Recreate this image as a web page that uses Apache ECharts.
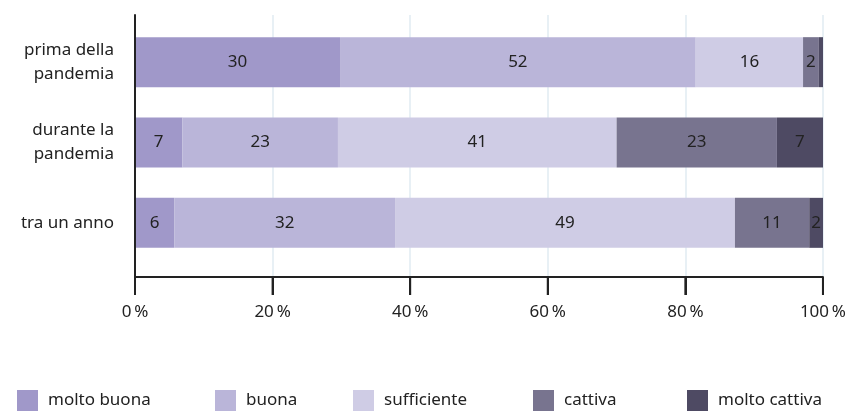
<!DOCTYPE html>
<html>
<head>
<meta charset="utf-8">
<script src="https://cdn.jsdelivr.net/npm/echarts@6/dist/echarts.min.js"></script>
<style>
  html, body { margin: 0; padding: 0; background: #fff; }
  #chart { width: 849px; height: 412px; }
</style>
</head>
<body>
<div id="chart"></div>
<script>
const categories = ['prima della\npandemia', 'durante la\npandemia', 'tra un anno']
const seriesNames = ['molto buona', 'buona', 'sufficiente', 'cattiva', 'molto cattiva']
const moltoBuona = [29.8, 6.9, 5.7]
const buona = [51.7, 22.6, 32.1]
const sufficiente = [15.6, 40.5, 49.4]
const cattiva = [2.3, 23.3, 10.8]
const moltoCattiva = [0.6, 6.7, 2.0]
const tickValues = [0, 20, 40, 60, 80, 100]
const tickLabels = ['0\u2009%', '20\u2009%', '40\u2009%', '60\u2009%', '80\u2009%', '100\u2009%']

const colors = ['#a098c9', '#bab5d9', '#cfcce5', '#78748f', '#4e4a63']
const values = [moltoBuona, buona, sufficiente, cattiva, moltoCattiva]
const legendLeft = [12, 210, 348, 528, 682]
const font = 'Noto Sans'

const chart = echarts.init(document.getElementById('chart'))

const barSeries = seriesNames.map(function (name, i) {
  return {
    name: name,
    type: 'bar',
    stack: 'total',
    xAxisIndex: 1,
    yAxisIndex: 1,
    barWidth: 50,
    itemStyle: { color: colors[i] },
    label: {
      show: true,
      position: 'inside',
      fontSize: 17,
      color: '#222',
      fontFamily: font,
      formatter: function (p) {
        return p.value < 1 ? '' : String(Math.round(p.value))
      }
    },
    data: values[i]
  }
})

const option = {
  animation: false,
  grid: [
    // frame: axis lines, ticks, labels, gridlines
    { left: 135, right: 26, top: 15, bottom: 135 },
    // bars
    { left: 135, right: 26, top: 22, bottom: 149 }
  ],
  xAxis: [
    {
      gridIndex: 0,
      type: 'value',
      min: 0,
      max: 100,
      interval: 20,
      axisLine: { show: true, lineStyle: { color: '#222', width: 2 } },
      axisTick: { show: true, length: 18, lineStyle: { color: '#222', width: 2 } },
      splitLine: { show: true, lineStyle: { color: '#e8f0f5', width: 2 } },
      axisLabel: {
        margin: 27,
        fontSize: 17,
        color: '#222',
        fontFamily: font,
        formatter: function (value) {
          return tickLabels[tickValues.indexOf(value)]
        }
      }
    },
    {
      gridIndex: 1,
      type: 'value',
      min: 0,
      max: 100,
      show: false
    }
  ],
  yAxis: [
    {
      gridIndex: 0,
      type: 'value',
      min: 0,
      max: 1,
      z: 5,
      axisLine: { show: true, lineStyle: { color: '#222', width: 2 } },
      axisTick: { show: false },
      axisLabel: { show: false },
      splitLine: { show: false }
    },
    {
      gridIndex: 1,
      type: 'category',
      inverse: true,
      data: categories,
      axisLine: { show: false },
      axisTick: { show: false },
      splitLine: { show: false },
      axisLabel: {
        margin: 21,
        fontSize: 17,
        lineHeight: 24,
        color: '#222',
        align: 'right',
        fontFamily: font
      }
    }
  ],
  legend: seriesNames.map(function (name, i) {
    return {
      data: [name],
      left: legendLeft[i],
      top: 385,
      icon: 'rect',
      itemWidth: 21,
      itemHeight: 21,
      selectedMode: false,
      textStyle: { fontSize: 17, color: '#222', fontFamily: font, padding: [0, 0, 0, 5] }
    }
  }),
  // empty series so the frame axes are bound to a series
  series: [{ type: 'bar', xAxisIndex: 0, yAxisIndex: 0, data: [] }].concat(barSeries)
}

chart.setOption(option)

// outward tick marks under the x axis, placed through the axis scale
const tickLen = 18
const axisY = chart.convertToPixel({ yAxisIndex: 0 }, 0)
chart.setOption({
  graphic: tickValues.map(function (v) {
    const x = chart.convertToPixel({ xAxisIndex: 0 }, v)
    return {
      type: 'line',
      shape: { x1: x, y1: axisY, x2: x, y2: axisY + tickLen },
      style: { stroke: '#222', lineWidth: 2 }
    }
  })
})
</script>
</body>
</html>
